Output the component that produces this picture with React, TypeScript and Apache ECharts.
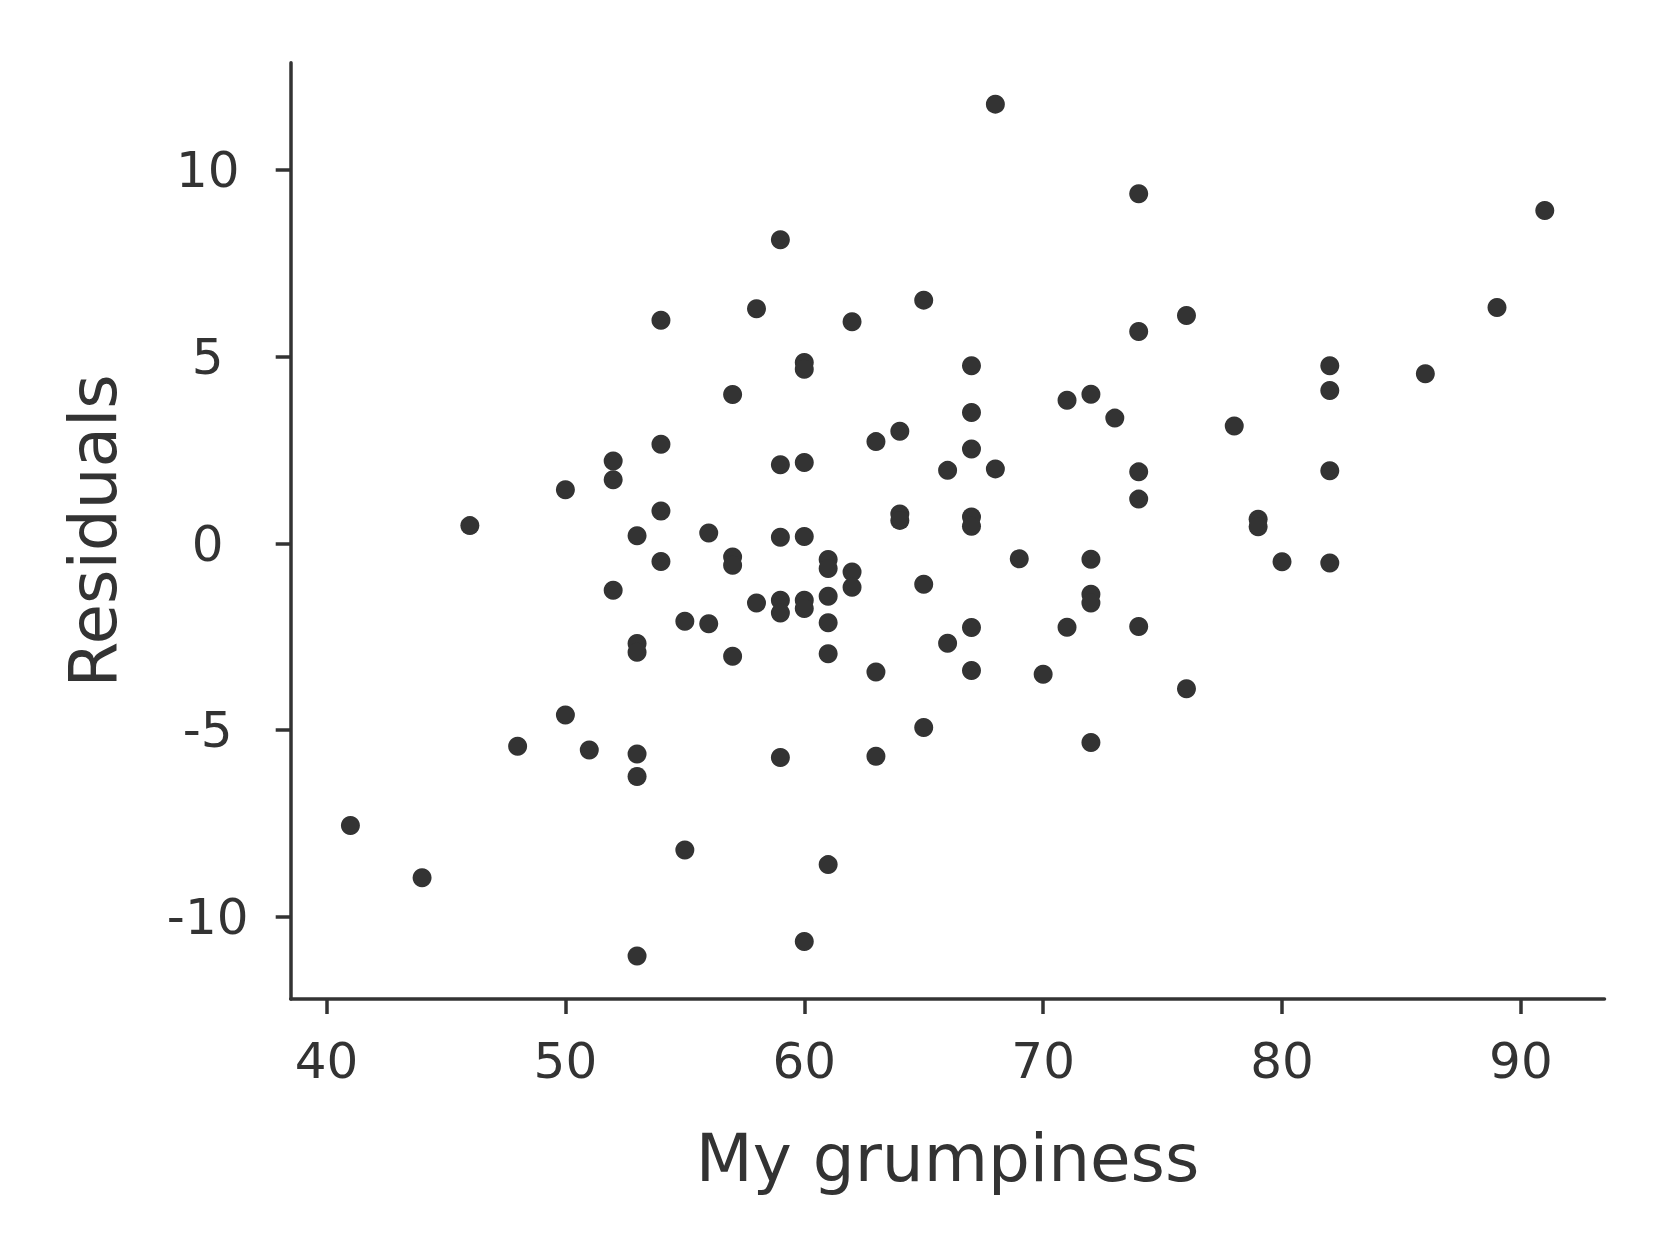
import * as echarts from 'echarts';
import React, { useEffect, useRef } from 'react';

// grumpiness (x) and residual (y) of each of the 100 days
const grumpiness = [
  68, 74, 91, 59, 65, 58, 89, 54, 62, 76,
  74, 60, 60, 67, 82, 86, 82, 57, 71, 72,
  67, 73, 78, 64, 63, 54, 67, 52, 59, 60,
  66, 68, 74, 82, 52, 50, 74, 54, 64, 64,
  67, 67, 79, 79, 46, 56, 53, 59, 60, 69,
  54, 57, 57, 72, 80, 82, 61, 61, 62, 62,
  65, 52, 61, 72, 72, 58, 59, 59, 60, 60,
  55, 56, 61, 67, 71, 74, 66, 53, 53, 61,
  57, 63, 67, 70, 76, 50, 65, 72, 48, 51,
  53, 63, 59, 53, 41, 55, 61, 44, 60, 53,
];
const residuals = [
  11.77, 9.37, 8.92, 8.14, 6.52, 6.29, 6.32, 5.98, 5.94, 6.11,
  5.68, 4.85, 4.67, 4.76, 4.76, 4.55, 4.10, 3.99, 3.84, 4.0,
  3.51, 3.36, 3.15, 3.01, 2.73, 2.66, 2.53, 2.21, 2.11, 2.17,
  1.96, 2.0, 1.92, 1.95, 1.71, 1.44, 1.19, 0.87, 0.79, 0.62,
  0.71, 0.46, 0.65, 0.45, 0.48, 0.28, 0.21, 0.17, 0.19, -0.41,
  -0.48, -0.36, -0.58, -0.42, -0.49, -0.52, -0.43, -0.67, -0.76, -1.17,
  -1.09, -1.25, -1.41, -1.36, -1.59, -1.59, -1.52, -1.86, -1.52, -1.74,
  -2.08, -2.15, -2.12, -2.25, -2.24, -2.22, -2.67, -2.68, -2.91, -2.95,
  -3.02, -3.44, -3.4, -3.5, -3.89, -4.59, -4.93, -5.33, -5.43, -5.53,
  -5.64, -5.7, -5.73, -6.24, -7.55, -8.21, -8.6, -8.95, -10.66, -11.05,
];
const xTicks = [40, 50, 60, 70, 80, 90];
const yTicks = [-10, -5, 0, 5, 10];

const INK = '#333333';
const FONT = '"DejaVu Sans", sans-serif';

const ResidualPlot: React.FC = () => {
  const ref = useRef<HTMLDivElement>(null);
  const chart = useRef<echarts.ECharts>();

  useEffect(() => {
    chart.current = echarts.init(ref.current, null, { renderer: 'svg' });
    chart.current.setOption({
      animation: false,
      backgroundColor: '#ffffff',
      textStyle: { fontFamily: FONT, color: INK },
      grid: {
        left: 290.7,
        right: 62.5,
        top: 62.7,
        bottom: 251,
        containLabel: false,
        outerBoundsMode: 'none',
      },
      xAxis: {
        type: 'value',
        min: 38.5,
        max: 93.5,
        name: 'My grumpiness',
        nameLocation: 'middle',
        nameGap: 126,
        nameTextStyle: { fontSize: 66, color: INK, fontFamily: FONT },
        axisLine: { onZero: false, lineStyle: { color: INK, width: 3.5 } },
        axisTick: { show: true, length: 15, customValues: xTicks, lineStyle: { color: INK, width: 3.5 } },
        axisLabel: { customValues: xTicks, margin: 37, fontSize: 50, color: INK, fontFamily: FONT },
        splitLine: { show: false },
      },
      yAxis: {
        type: 'value',
        min: -12.2,
        max: 12.88,
        name: 'Residuals',
        nameLocation: 'middle',
        nameGap: 164,
        nameTextStyle: { fontSize: 66, color: INK, fontFamily: FONT },
        axisLine: { show: true, onZero: false, lineStyle: { color: INK, width: 3.5 } },
        axisTick: { show: true, length: 15, customValues: yTicks, lineStyle: { color: INK, width: 3.5 } },
        axisLabel: { customValues: yTicks, margin: 83, align: 'center', fontSize: 50, color: INK, fontFamily: FONT },
        splitLine: { show: false },
      },
      series: [
        {
          type: 'scatter',
          symbol: 'circle',
          symbolSize: 19,
          itemStyle: { color: INK, opacity: 1 },
          emphasis: { disabled: true },
          data: grumpiness.map((g, i) => [g, residuals[i]]),
        },
      ],
    });

    return () => {
      chart.current?.dispose();
    };
  }, []);

  return <div ref={ref} style={{ position: 'absolute', left: 0, top: 0, width: 1667, height: 1250 }}></div>;
};

const App: React.FC = () => <ResidualPlot />;

export default App;
